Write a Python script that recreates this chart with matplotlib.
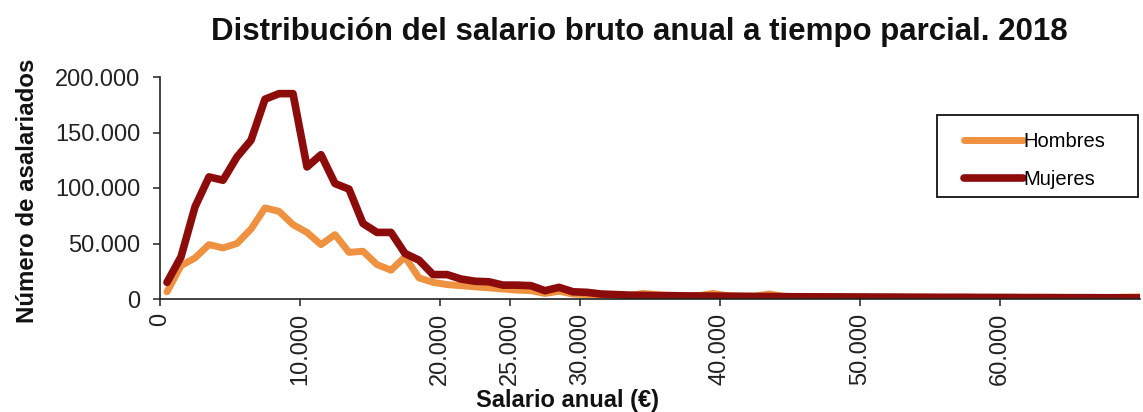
import numpy as np
import matplotlib
matplotlib.use("Agg")
import matplotlib.pyplot as plt
from matplotlib.ticker import FuncFormatter
from matplotlib.patches import Rectangle

# salary bins (midpoints, euros) - one bin per 1.000 EUR
salary_bins = np.arange(500, 71000, 1000)

# number of employees per bin, in thousands
hombres_k = [6.5, 30, 37, 49, 46, 50, 63, 82, 79, 67,
             60, 49, 58, 42, 43, 31, 26, 38, 19, 15,
             13, 12, 11, 10, 9, 8, 7.5, 5, 7, 4.5,
             4, 3.5, 3.5, 3, 5, 4, 3, 2.5, 3, 5,
             3, 2.5, 2.5, 4.5, 2.5, 2, 2, 2, 1.8, 1.8,
             1.7, 1.7, 1.6, 1.6, 1.6, 1.5, 1.5, 1.5, 1.5, 1.4,
             1.4, 1.4, 1.4, 1.3, 1.3, 1.3, 1.3, 1.3, 1.5, 1.8, 2.0]
mujeres_k = [15, 38, 83, 110, 107, 128, 143, 180, 185, 185,
             119, 130, 104, 99, 68, 60, 60, 41, 35, 22,
             22, 18, 16, 15.5, 12.5, 12.5, 12, 7.5, 10.5, 6.5,
             6, 4.5, 4, 3.5, 3.2, 3, 3, 2.8, 2.7, 2.6,
             2.5, 2.4, 2.3, 2.2, 2.1, 2, 2, 1.9, 1.9, 1.8,
             1.8, 1.7, 1.7, 1.6, 1.6, 1.5, 1.5, 1.5, 1.4, 1.4,
             1.4, 1.3, 1.3, 1.3, 1.2, 1.2, 1.2, 1.1, 1.1, 1.0, 1.0]

x_ticks = [0, 10000, 20000, 25000, 30000, 40000, 50000, 60000]
y_ticks = [0, 50000, 100000, 150000, 200000]

title = "Distribución del salario bruto anual a tiempo parcial. 2018"
c_hombres = "#EE9141"
c_mujeres = "#8C0C0C"

plt.rcParams["font.family"] = ["Liberation Sans", "DejaVu Sans"]

fig = plt.figure(figsize=(11.43, 4.12), dpi=100)
ax = fig.add_axes([160 / 1143, 1 - 299 / 412, 980 / 1143, 222 / 412])

h_line, = ax.plot(salary_bins, np.array(hombres_k) * 1000, color=c_hombres,
                  lw=5.0, solid_joinstyle="round", solid_capstyle="round")
m_line, = ax.plot(salary_bins, np.array(mujeres_k) * 1000, color=c_mujeres,
                  lw=5.5, solid_joinstyle="round", solid_capstyle="round")

ax.set_xlim(0, 70000)
ax.set_ylim(0, 200000)
ax.set_xticks(x_ticks)
ax.set_yticks(y_ticks)
fmt = FuncFormatter(lambda v, p: f"{int(v):,}".replace(",", "."))
ax.xaxis.set_major_formatter(fmt)
ax.yaxis.set_major_formatter(fmt)

for s in ["top", "right"]:
    ax.spines[s].set_visible(False)
for s in ["left", "bottom"]:
    ax.spines[s].set_color("#222222")
    ax.spines[s].set_linewidth(1.2)

ax.tick_params(axis="both", direction="out", length=5, width=1.1,
               colors="#222222", labelsize=17)
ax.tick_params(axis="y", pad=9)
ax.tick_params(axis="x", pad=5, labelrotation=90)

fig.text(639 / 1143, 1 - 32 / 412, title, ha="center", va="center",
         fontsize=22.5, fontweight="bold", color="#111111")
fig.text(568 / 1143, 1 - 401 / 412, "Salario anual (€)", ha="center", va="center",
         fontsize=17, fontweight="bold", color="#111111")
fig.text(28 / 1143, 1 - 191 / 412, "Número de asalariados", ha="center", va="center",
         rotation=90, fontsize=17.3, fontweight="bold", color="#111111")

# legend box
ax.add_patch(Rectangle(((937 - 160) / 980, (299 - 197) / 222), 201 / 980, 82 / 222,
                       transform=ax.transAxes, fill=False, edgecolor="#111111",
                       lw=1.3, clip_on=False, zorder=5))
ax.legend([h_line, m_line], ["Hombres", "Mujeres"], frameon=False,
          loc="upper left", bbox_to_anchor=((948 - 160) / 980, (299 - 116) / 222),
          fontsize=14.5, handlelength=2.9, handletextpad=0.05, labelspacing=0.95,
          borderpad=0.3)

fig.savefig("out.png", dpi=100)
